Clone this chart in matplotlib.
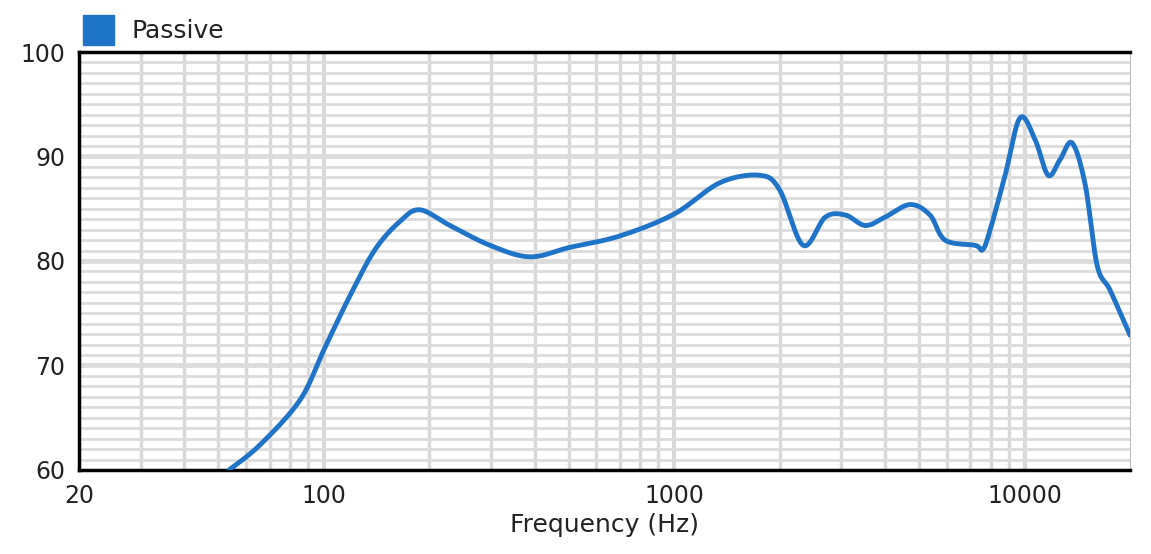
import matplotlib
matplotlib.use("Agg")
import matplotlib.pyplot as plt
import numpy as np

freq = [53.6, 65.7, 85.5, 100, 118.8, 140, 165, 188, 229, 298, 387, 503, 700, 1000, 1352, 1758, 2000,
        2334, 2700, 3080, 3510, 4000, 4710, 5370, 5930, 7220, 7600, 7980, 8800, 9710, 10720, 11680,
        12630, 13670, 14900, 16110, 17550, 20000]
spl = [60, 62.4, 66.7, 71.5, 76.7, 81.1, 83.8, 84.9, 83.4, 81.5, 80.4, 81.3, 82.4, 84.5, 87.5, 88.2, 86.8,
       81.5, 84.2, 84.4, 83.4, 84.2, 85.4, 84.4, 82.0, 81.5, 81.1, 83.0, 88.2, 93.7, 91.6, 88.2,
       89.7, 91.3, 87.3, 79.6, 77.2, 72.9]

def catmull(x, y, n=20):
    P = np.column_stack([np.log10(x), y])
    P = np.vstack([P[0], P, P[-1]])
    out = []
    t = np.linspace(0, 1, n, endpoint=False)[:, None]
    for i in range(1, len(P) - 2):
        p0, p1, p2, p3 = P[i-1], P[i], P[i+1], P[i+2]
        seg = 0.5 * ((2*p1) + (-p0 + p2)*t + (2*p0 - 5*p1 + 4*p2 - p3)*t**2 + (-p0 + 3*p1 - 3*p2 + p3)*t**3)
        out.append(seg)
    out.append(P[-2][None, :])
    Q = np.vstack(out)
    return 10**Q[:, 0], Q[:, 1]

fig = plt.figure(figsize=(11.51, 5.54), dpi=100)
ax = fig.add_axes([79/1151, 1-470/554, (1130-79)/1151, (470-52)/554])
ax.set_xscale('log')
ax.set_xlim(20, 20000)
ax.set_ylim(60, 100)
for d in [10, 100, 1000, 10000]:
    for m in range(1, 10):
        f = d * m
        if 20 < f < 20000:
            ax.axvline(f, color='#d9d9d9', lw=3 if m == 1 else 2.5, zorder=0)
for v in range(61, 100):
    ax.axhline(v, color='#dcdcdc', lw=3.5 if v % 10 == 0 else 2, zorder=0)
sx, sy = catmull(freq, spl)
ax.plot(sx, sy, color='#1f74c8', lw=3.5, solid_capstyle='round', zorder=3, clip_on=True)
ax.set_xticks([20, 100, 1000, 10000])
ax.set_xticklabels(['20', '100', '1000', '10000'])
ax.minorticks_off()
ax.set_yticks([60, 70, 80, 90, 100])
ax.tick_params(length=0, labelsize=17, colors='#222222', pad=10)
for s in ['left', 'top', 'bottom']:
    ax.spines[s].set_linewidth(2.5)
ax.spines['right'].set_color('#bbbbbb')
ax.set_xlabel('Frequency (Hz)', fontsize=18, color='#222222', labelpad=4)
fig.patches.append(plt.Rectangle((83/1151, 1-45/554), 31/1151, 30/554, color='#1f74c8', transform=fig.transFigure))
fig.text(131/1151, 1-31/554, 'Passive', fontsize=18, va='center', color='#222222')
fig.savefig('out.png')
